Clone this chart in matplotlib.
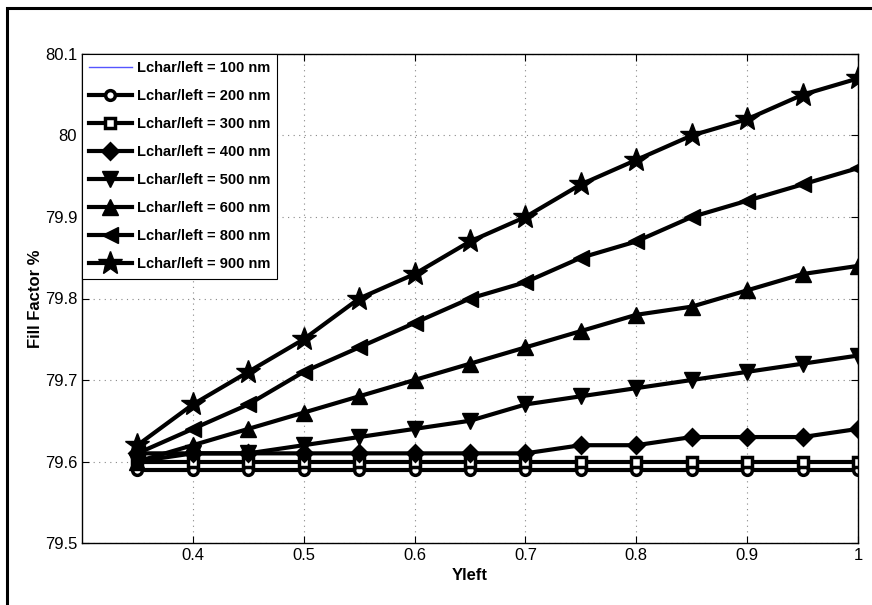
import matplotlib
matplotlib.use("Agg")
import matplotlib.pyplot as plt
from matplotlib.patches import Rectangle

plt.rcParams['font.family'] = ['Liberation Sans', 'DejaVu Sans']

yleft = [0.35, 0.40, 0.45, 0.50, 0.55, 0.60, 0.65, 0.70, 0.75, 0.80, 0.85, 0.90, 0.95, 1.00]

ff_100 = [79.59] * 14
ff_200 = [79.59, 79.59, 79.59, 79.59, 79.59, 79.59, 79.59, 79.59, 79.59, 79.59, 79.59, 79.59, 79.59, 79.59]
ff_300 = [79.60, 79.60, 79.60, 79.60, 79.60, 79.60, 79.60, 79.60, 79.60, 79.60, 79.60, 79.60, 79.60, 79.60]
ff_400 = [79.61, 79.61, 79.61, 79.61, 79.61, 79.61, 79.61, 79.61, 79.62, 79.62, 79.63, 79.63, 79.63, 79.64]
ff_500 = [79.60, 79.61, 79.61, 79.62, 79.63, 79.64, 79.65, 79.67, 79.68, 79.69, 79.70, 79.71, 79.72, 79.73]
ff_600 = [79.60, 79.62, 79.64, 79.66, 79.68, 79.70, 79.72, 79.74, 79.76, 79.78, 79.79, 79.81, 79.83, 79.84]
ff_800 = [79.61, 79.64, 79.67, 79.71, 79.74, 79.77, 79.80, 79.82, 79.85, 79.87, 79.90, 79.92, 79.94, 79.96]
ff_900 = [79.62, 79.67, 79.71, 79.75, 79.80, 79.83, 79.87, 79.90, 79.94, 79.97, 80.00, 80.02, 80.05, 80.07]

labels = ['Lchar/left = 100 nm', 'Lchar/left = 200 nm', 'Lchar/left = 300 nm',
          'Lchar/left = 400 nm', 'Lchar/left = 500 nm', 'Lchar/left = 600 nm',
          'Lchar/left = 800 nm', 'Lchar/left = 900 nm']

xticks = [0.4, 0.5, 0.6, 0.7, 0.8, 0.9, 1.0]
xticklabels = ['0.4', '0.5', '0.6', '0.7', '0.8', '0.9', '1']
yticks = [79.5, 79.6, 79.7, 79.8, 79.9, 80.0, 80.1]
yticklabels = ['79.5', '79.6', '79.7', '79.8', '79.9', '80', '80.1']

fig = plt.figure(figsize=(8.72, 6.05), dpi=100)
ax = fig.add_axes([82 / 872, 1 - 543 / 605, (858 - 82) / 872, (543 - 54) / 605])

lw = 3.0
ax.plot(yleft, ff_100, color='#5555ff', lw=1.0, label=labels[0])
ax.plot(yleft, ff_200, color='black', lw=lw, marker='o', ms=7, mfc='white', mec='black', mew=2.5, label=labels[1])
ax.plot(yleft, ff_300, color='black', lw=lw, marker='s', ms=7, mfc='white', mec='black', mew=2.5, label=labels[2])
ax.plot(yleft, ff_400, color='black', lw=lw, marker='D', ms=8, mfc='black', mec='black', mew=2.0, label=labels[3])
ax.plot(yleft, ff_500, color='black', lw=lw, marker='v', ms=12, mfc='black', mec='black', label=labels[4])
ax.plot(yleft, ff_600, color='black', lw=lw, marker='^', ms=12, mfc='black', mec='black', label=labels[5])
ax.plot(yleft, ff_800, color='black', lw=lw, marker='<', ms=12, mfc='black', mec='black', label=labels[6])
ax.plot(yleft, ff_900, color='black', lw=lw, marker='*', ms=18, mfc='black', mec='black', label=labels[7])

ax.set_xlim(0.3, 1.0)
ax.set_ylim(79.5, 80.1)
ax.set_xticks(xticks)
ax.set_xticklabels(xticklabels)
ax.set_yticks(yticks)
ax.set_yticklabels(yticklabels)
ax.tick_params(direction='in', top=True, right=True, labelsize=12, length=5, width=0.8)
ax.grid(True, linestyle=(0, (1, 4)), color='#888888', linewidth=0.8)
for s in ax.spines.values():
    s.set_linewidth(1.0)

ax.set_xlabel('Yleft', fontsize=12, fontweight='bold')
ax.set_ylabel('Fill Factor %', fontsize=12, fontweight='bold', labelpad=1)

leg = ax.legend(loc='upper left', borderaxespad=0.0, fancybox=False, framealpha=1,
                edgecolor='black', handlelength=2.9, handletextpad=0.35, labelspacing=0.96,
                prop={'weight': 'bold', 'size': 10.5},
                borderpad=0.5)
leg.get_frame().set_linewidth(0.8)

fig.patches.append(Rectangle((7 / 872, -0.1), 1.2, 1.1 - 8 / 605, transform=fig.transFigure,
                             fill=False, edgecolor='black', linewidth=2.2))

fig.savefig('out.png', dpi=100)
